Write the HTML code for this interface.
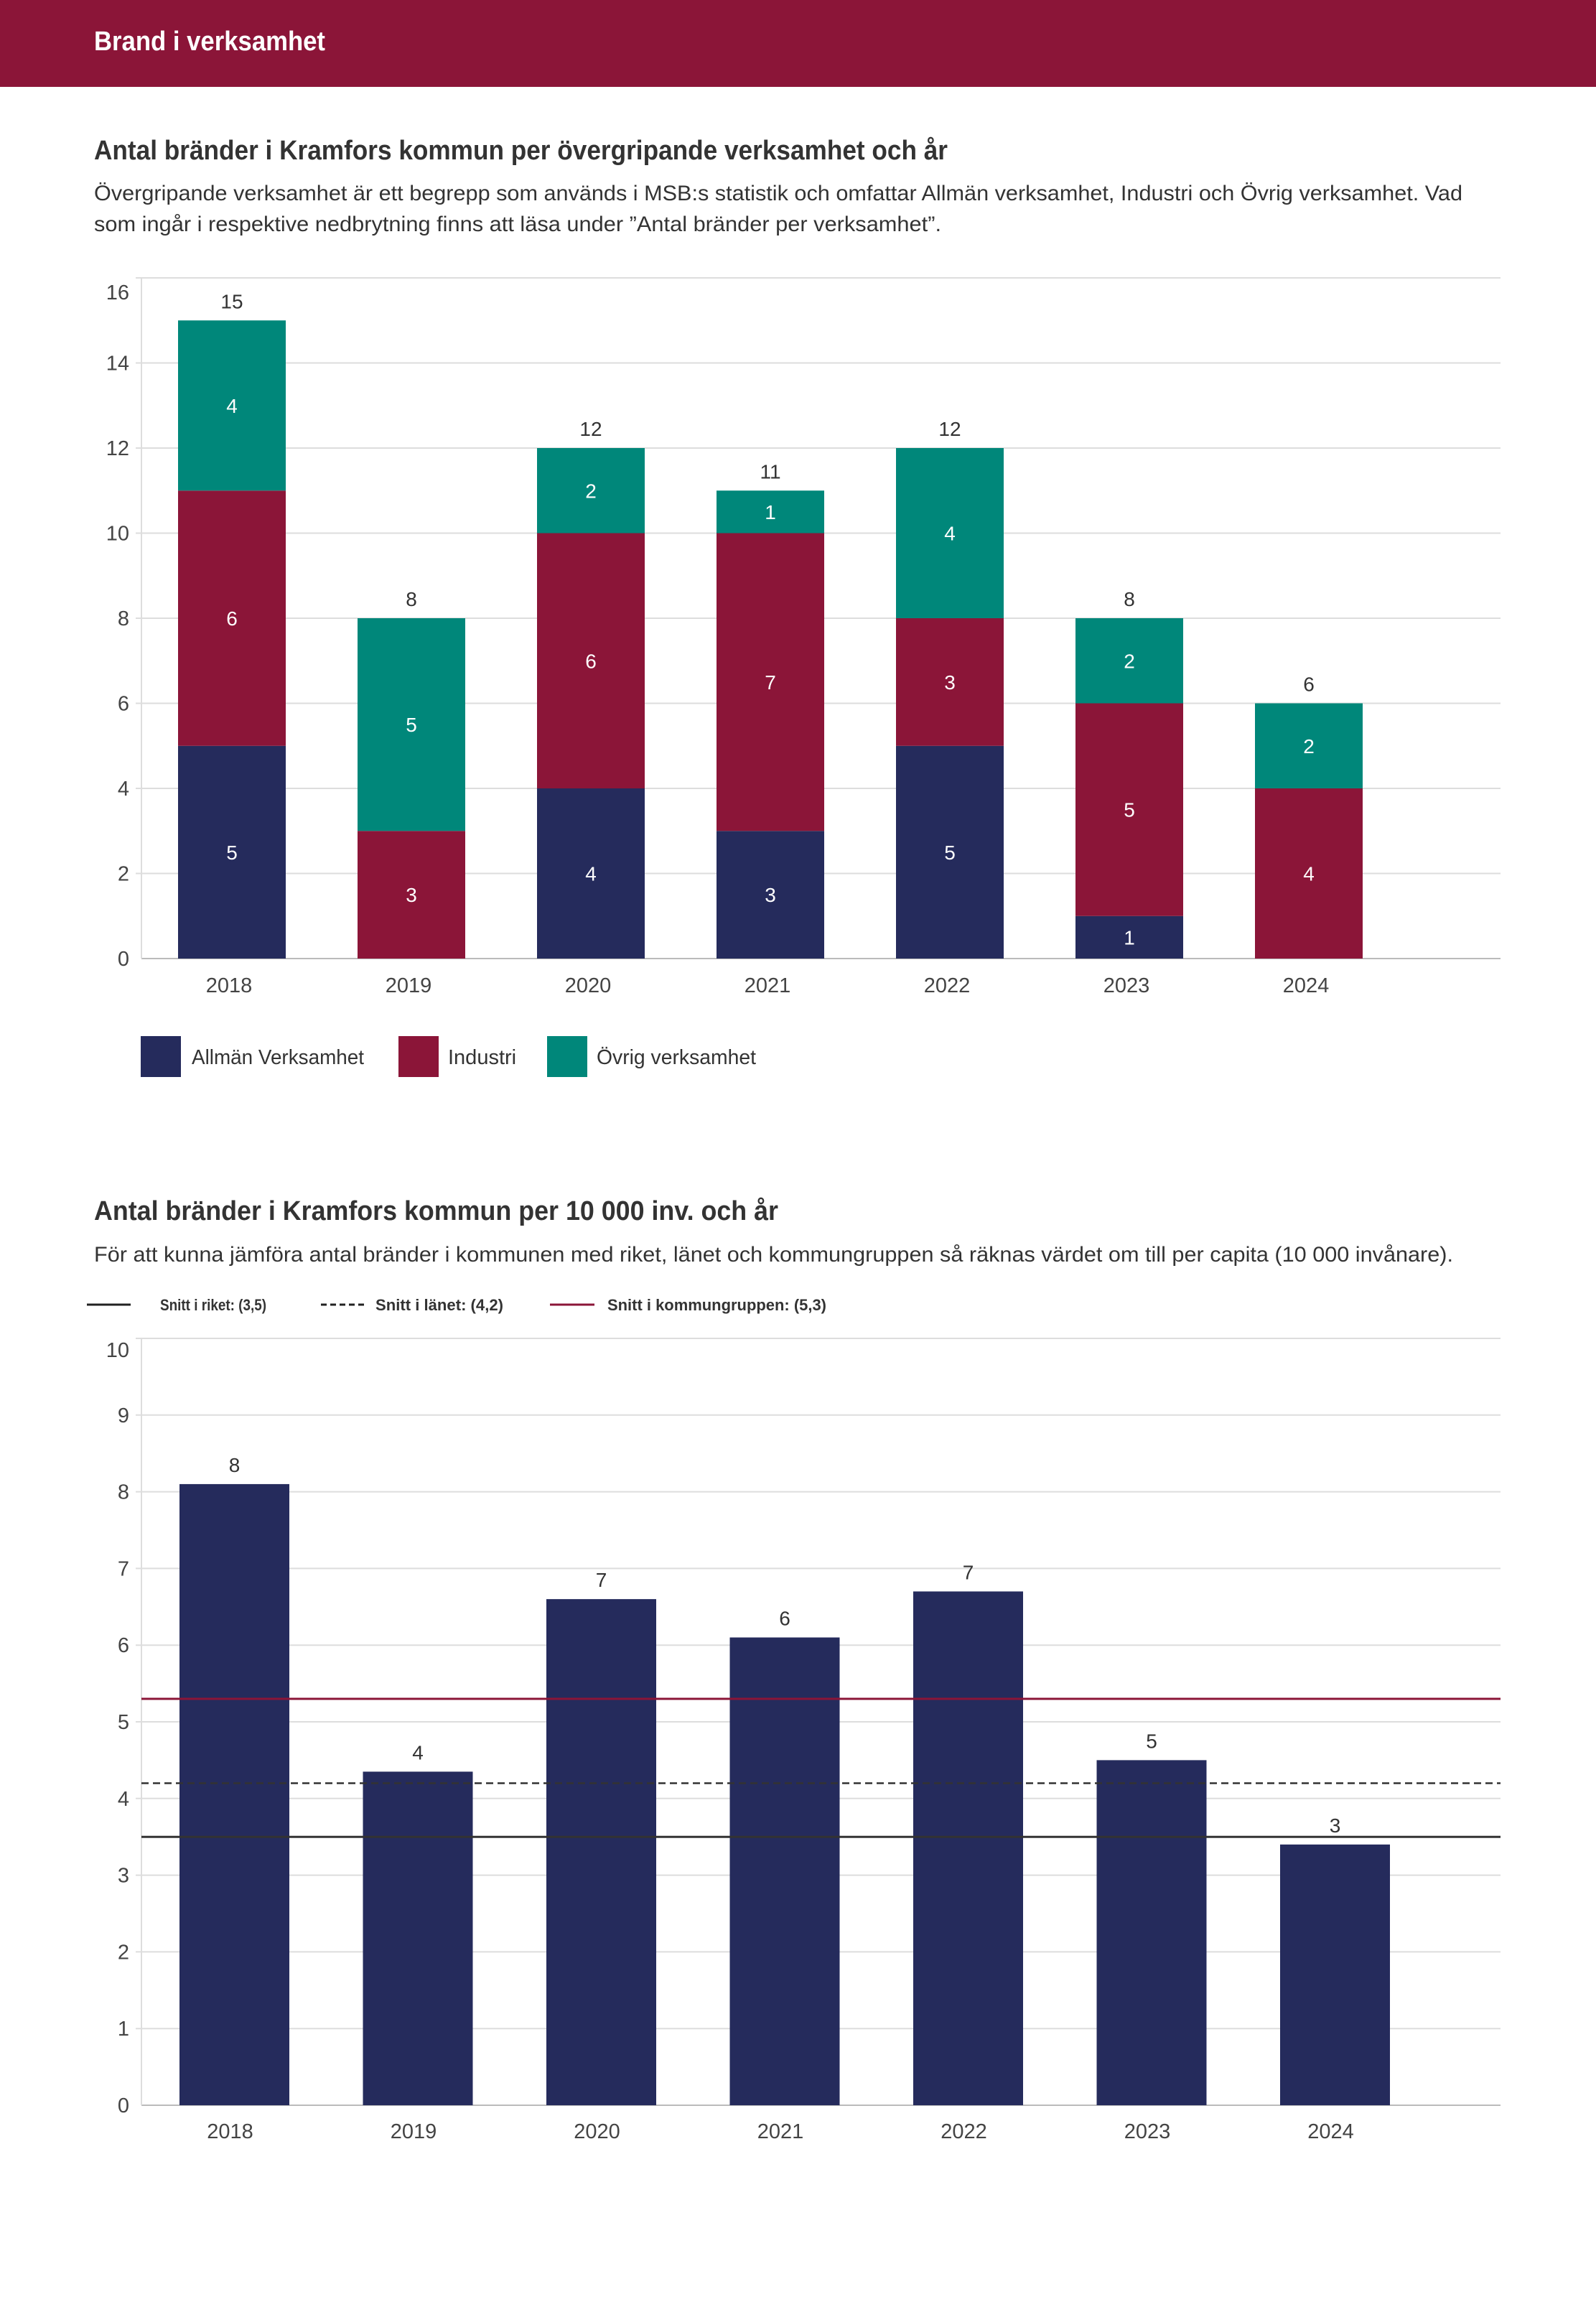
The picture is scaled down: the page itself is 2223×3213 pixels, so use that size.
<!DOCTYPE html>
<html><head><meta charset="utf-8"><style>
html,body{margin:0;padding:0;background:#fff}
svg{display:block}
text{font-family:"Liberation Sans",sans-serif}
</style></head><body>
<svg id="page" width="2223" height="3213" viewBox="0 0 2223 3213" xmlns="http://www.w3.org/2000/svg">
<rect x="0" y="0" width="2223" height="121" fill="#8b1538"/>
<text x="131" y="70" font-size="38" font-weight="bold" fill="#fff" textLength="322" lengthAdjust="spacingAndGlyphs">Brand i verksamhet</text>

<text x="131" y="222" font-size="38" font-weight="bold" fill="#333" textLength="1189" lengthAdjust="spacingAndGlyphs">Antal bränder i Kramfors kommun per övergripande verksamhet och år</text>
<text x="131" y="279" font-size="30" fill="#333" textLength="1906" lengthAdjust="spacingAndGlyphs">Övergripande verksamhet är ett begrepp som används i MSB:s statistik och omfattar Allmän verksamhet, Industri och Övrig verksamhet. Vad</text>
<text x="131" y="322" font-size="30" fill="#333" textLength="1180" lengthAdjust="spacingAndGlyphs">som ingår i respektive nedbrytning finns att läsa under ”Antal bränder per verksamhet”.</text>
<g id="chart1"></g>

<g>
<rect x="196" y="1443" width="56" height="57" fill="#252b5c"/>
<text x="267" y="1482" font-size="29" fill="#333" textLength="240" lengthAdjust="spacingAndGlyphs">Allmän Verksamhet</text>
<rect x="555" y="1443" width="56" height="57" fill="#8b1538"/>
<text x="624" y="1482" font-size="29" fill="#333">Industri</text>
<rect x="762" y="1443" width="56" height="57" fill="#00877a"/>
<text x="831" y="1482" font-size="29" fill="#333" textLength="222" lengthAdjust="spacingAndGlyphs">Övrig verksamhet</text>
</g>

<text x="131" y="1699" font-size="38" font-weight="bold" fill="#333" textLength="953" lengthAdjust="spacingAndGlyphs">Antal bränder i Kramfors kommun per 10 000 inv. och år</text>
<text x="131" y="1757" font-size="30" fill="#333" textLength="1893" lengthAdjust="spacingAndGlyphs">För att kunna jämföra antal bränder i kommunen med riket, länet och kommungruppen så räknas värdet om till per capita (10 000 invånare).</text>
<g>
<line x1="121" y1="1817" x2="182" y2="1817" stroke="#222" stroke-width="3"/>
<text x="223" y="1825" font-size="22" font-weight="bold" fill="#333" textLength="148" lengthAdjust="spacingAndGlyphs">Snitt i riket: (3,5)</text>
<line x1="447" y1="1817" x2="508" y2="1817" stroke="#222" stroke-width="3" stroke-dasharray="8,5"/>
<text x="523" y="1825" font-size="22" font-weight="bold" fill="#333" textLength="178" lengthAdjust="spacingAndGlyphs">Snitt i länet: (4,2)</text>
<line x1="766" y1="1817" x2="828" y2="1817" stroke="#8b1538" stroke-width="3"/>
<text x="846" y="1825" font-size="22" font-weight="bold" fill="#333" textLength="305" lengthAdjust="spacingAndGlyphs">Snitt i kommungruppen: (5,3)</text>
</g>
<g id="chart2"></g>
</svg>
<script>
const years = ["2018","2019","2020","2021","2022","2023","2024"];
const allman = [5,0,4,3,5,1,0];
const industri = [6,3,6,7,3,5,4];
const ovrig = [4,5,2,1,4,2,2];
const yTicks1 = [0,2,4,6,8,10,12,14,16];
const perCapita = [8.1,4.35,6.6,6.1,6.7,4.5,3.4];
const perCapitaLabels = ["8","4","7","6","7","5","3"];
const yTicks2 = [0,1,2,3,4,5,6,7,8,9,10];
const avgRiket = 3.5;
const avgLanet = 4.2;
const avgKommungrupp = 5.3;

const NS="http://www.w3.org/2000/svg";
function mk(parent,tag,attrs,txt){const e=document.createElementNS(NS,tag);for(const k in attrs)e.setAttribute(k,attrs[k]);if(txt!==undefined)e.textContent=txt;parent.appendChild(e);return e;}

// chart 1
(function(){
  const g=document.getElementById('chart1');
  const x0=197,x1=2090,yBase=1335,yTop=387,maxV=16;
  const y=v=>yBase-(yBase-yTop)*v/maxV;
  const bx=i=>248+i*250, bw=150;
  yTicks1.forEach(t=>{
    const l=mk(g,'line',{x1:t===0?x0:x0-8,x2:x1,y1:y(t),y2:y(t),stroke:t===0?'#bbb':'#ddd','stroke-width':2});
    
    
    const tx=mk(g,'text',{x:180,y:t===16?y(t)+30:y(t)+10,'font-size':29,fill:'#444','text-anchor':'end'},String(t));
    
    
  });
  const ax=mk(g,'line',{x1:x0,x2:x0,y1:yTop,y2:yBase,stroke:'#ddd','stroke-width':2});
  
  
  const series=[[allman,'#252b5c','allman'],[industri,'#8b1538','industri'],[ovrig,'#00877a','ovrig']];
  years.forEach((yr,i)=>{
    let acc=0;
    series.forEach(([arr,col,nm])=>{
      const v=arr[i]; if(!v) return;
      const r=mk(g,'rect',{x:bx(i),y:y(acc+v),width:bw,height:y(acc)-y(acc+v),fill:col});
      
      
      const t=mk(g,'text',{x:bx(i)+bw/2,y:(y(acc)+y(acc+v))/2+10,'font-size':28,fill:'#fff','text-anchor':'middle'},String(v));
      
      
      acc+=v;
    });
    const tot=mk(g,'text',{x:bx(i)+bw/2,y:y(acc)-17,'font-size':28,fill:'#333','text-anchor':'middle'},String(acc));
    
    
    const xl=mk(g,'text',{x:bx(i)+bw/2-4,y:1382,'font-size':29,fill:'#444','text-anchor':'middle'},yr);
    
    
  });
})();

// chart 2
(function(){
  const g=document.getElementById('chart2');
  const x0=197,x1=2090,yBase=2932,yTop=1864,maxV=10;
  const y=v=>yBase-(yBase-yTop)*v/maxV;
  const bx=i=>250+i*255.5, bw=153;
  yTicks2.forEach(t=>{
    const l=mk(g,'line',{x1:t===0?x0:x0-8,x2:x1,y1:y(t),y2:y(t),stroke:t===0?'#bbb':'#ddd','stroke-width':2});
    
    
    const tx=mk(g,'text',{x:180,y:t===10?y(t)+26:y(t)+10,'font-size':29,fill:'#444','text-anchor':'end'},String(t));
    
    
  });
  const ax=mk(g,'line',{x1:x0,x2:x0,y1:yTop,y2:yBase,stroke:'#ddd','stroke-width':2});
  
  
  years.forEach((yr,i)=>{
    const v=perCapita[i];
    const r=mk(g,'rect',{x:bx(i),y:y(v),width:bw,height:yBase-y(v),fill:'#252b5c'});
    
    
    const t=mk(g,'text',{x:bx(i)+bw/2,y:y(v)-17,'font-size':28,fill:'#333','text-anchor':'middle'},perCapitaLabels[i]);
    
    
    const xl=mk(g,'text',{x:bx(i)+bw/2-6,y:2978,'font-size':29,fill:'#444','text-anchor':'middle'},yr);
    
    
  });
  const l1=mk(g,'line',{x1:x0,x2:x1,y1:y(avgKommungrupp),y2:y(avgKommungrupp),stroke:'#8b1538','stroke-width':3});
  
  
  const l2=mk(g,'line',{x1:x0,x2:x1,y1:y(avgLanet),y2:y(avgLanet),stroke:'#333','stroke-width':2.5,'stroke-dasharray':'10,6'});
  
  
  const l3=mk(g,'line',{x1:x0,x2:x1,y1:y(avgRiket),y2:y(avgRiket),stroke:'#333','stroke-width':3});
  
  
})();
</script>
</body></html>
